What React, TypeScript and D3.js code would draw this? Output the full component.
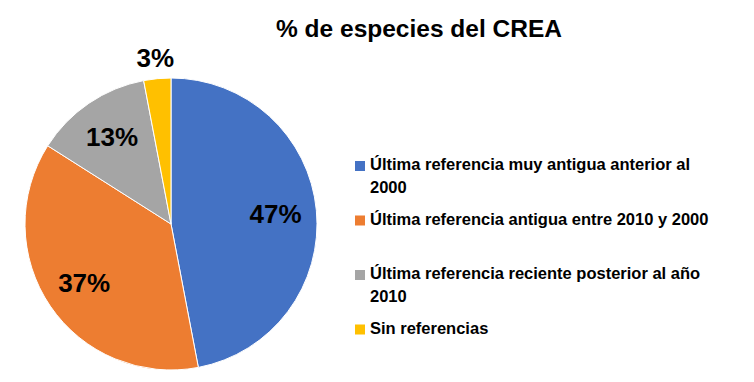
import React from "react";
import * as d3 from "d3";

const categories = [
  "Última referencia muy antigua anterior al 2000",
  "Última referencia antigua entre 2010 y 2000",
  "Última referencia reciente posterior al año 2010",
  "Sin referencias",
];
const values = [47, 37, 13, 3];
const legendLines = [
  ["Última referencia muy antigua anterior al", "2000"],
  ["Última referencia antigua entre 2010 y 2000"],
  ["Última referencia reciente posterior al año", "2010"],
  ["Sin referencias"],
];
const colors = ["#4472C4", "#ED7D31", "#A5A5A5", "#FFC000"];
const title = "% de especies del CREA";

const W = 754;
const H = 382;
const FONT = "'Liberation Sans', Arial, sans-serif";

export default function App() {
  const cx = 171;
  const cy = 224;
  const r = 146;
  const pie = d3.pie<number>().sort(null).value((d) => d);
  const arcs = pie(values);
  const arc = d3.arc<d3.PieArcDatum<number>>().innerRadius(0).outerRadius(r);
  const labelArcIn = d3.arc<d3.PieArcDatum<number>>().innerRadius(105 * 2).outerRadius(0);
  const labelArcOut = d3.arc<d3.PieArcDatum<number>>().innerRadius(167 * 2).outerRadius(0);
  const total = d3.sum(values);

  const legendX = 355;
  const legendY0 = 170;
  const legendStep = 54.5;
  const lineH = 23.3;

  return (
    <div style={{ margin: -8 }}>
      <svg width={W} height={H} style={{ display: "block", background: "#fff" }}>
        <text
          x={419}
          y={37}
          textAnchor="middle"
          fontFamily={FONT}
          fontWeight="bold"
          fontSize={24.5}
          fill="#000"
        >
          {title}
        </text>
        <g transform={`translate(${cx},${cy})`}>
          {arcs.map((a, i) => (
            <path key={i} d={arc(a) || ""} fill={colors[i]} stroke="#fff" strokeWidth={1} />
          ))}
          {arcs.map((a, i) => {
            const small = a.value / total < 0.05;
            const [x, y] = (small ? labelArcOut : labelArcIn).centroid(a);
            return (
              <text
                key={"l" + i}
                x={x}
                y={y}
                textAnchor="middle"
                dominantBaseline="central"
                fontFamily={FONT}
                fontWeight="bold"
                fontSize={26}
                fill="#000"
              >
                {Math.round((a.value / total) * 100) + "%"}
              </text>
            );
          })}
        </g>
        <g>
          {categories.map((c, i) => {
            const by = legendY0 + i * legendStep;
            return (
              <g key={c}>
                <rect x={legendX} y={by - 9} width={10} height={10} fill={colors[i]} />
                <text fontFamily={FONT} fontWeight="bold" fontSize={16.5} fill="#000">
                  {legendLines[i].map((ln, j) => (
                    <tspan key={j} x={legendX + 15} y={by + j * lineH}>
                      {ln}
                    </tspan>
                  ))}
                </text>
              </g>
            );
          })}
        </g>
      </svg>
    </div>
  );
}
